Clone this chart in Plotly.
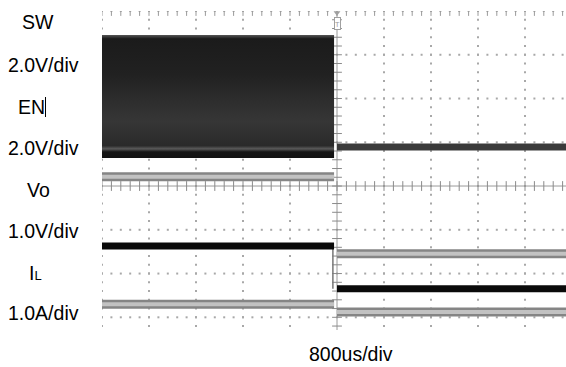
import numpy as np
import plotly.graph_objects as go

# ---- data (time in ms, 800us/div ; amplitude in divisions) ----
t_before = [0.0, 3.95]
t_after = [4.0, 7.9]
t_vo_edge = [3.93, 3.93]

sw_high = 3.45   # SW switching band top
sw_low = 0.64    # SW switching band bottom
sw_off = 0.89    # SW after disable
en_on = 0.21
en_off = -1.55
vo_on = -1.37
vo_off = -2.35
il_on = -2.70
il_off = -2.88

label_text = ["SW", "2.0V/div", "EN", "2.0V/div", "Vo", "1.0V/div",
              "I<span style='font-size:13px'>L</span>", "1.0A/div"]
time_label = "800us/div"

# ---- layout geometry ----
W, H = 566, 367
L, R, T, B = 102, 0, 11, 37
x_rng = [0, (W - L - R) / 47 * 0.8]
y_rng = [-3.29, 4.0]

def px2paper(px, py):
    return (px - L) / (W - L - R), (H - B - py) / (H - T - B)

fig = go.Figure()

# graticule dots
gx, gy = [], []
for xm in np.arange(0, 8.01, 0.8):
    if abs(xm - 4) < 1e-6:
        continue
    for yy in np.arange(-4, 4.01, 0.2):
        gx.append(xm); gy.append(yy)
for ym in np.arange(-4, 4.01, 1.0):
    if abs(ym) < 1e-6:
        continue
    for xx in np.arange(0, 8.01, 0.16):
        gx.append(xx); gy.append(ym)
fig.add_trace(go.Scatter(x=gx, y=gy, mode="markers",
                         marker=dict(symbol="square", size=2, color="#a8a8a8", line=dict(width=0)),
                         hoverinfo="skip"))

# centre axes ticks
mx = np.arange(0, 8.01, 0.16)
my = np.arange(-4, 4.01, 0.2)
fig.add_trace(go.Scatter(x=mx, y=[0] * len(mx), mode="markers",
                         marker=dict(symbol="line-ns", size=7, line=dict(width=1, color="#8a8a8a")),
                         hoverinfo="skip"))
fig.add_trace(go.Scatter(x=[4] * len(my), y=my, mode="markers",
                         marker=dict(symbol="line-ew", size=7, line=dict(width=1, color="#8a8a8a")),
                         hoverinfo="skip"))
# top edge ticks
fig.add_trace(go.Scatter(x=mx, y=[y_rng[1]] * len(mx), mode="markers",
                         marker=dict(symbol="line-ns", size=7, line=dict(width=1, color="#9a9a9a")),
                         hoverinfo="skip"))

fig.add_shape(type="line", x0=4, x1=4, y0=y_rng[0], y1=y_rng[1],
              line=dict(color="#9a9a9a", width=1), layer="below")
fig.add_shape(type="line", x0=x_rng[0], x1=x_rng[1], y0=0, y1=0,
              line=dict(color="#9a9a9a", width=1), layer="below")

# SW switching band
fig.add_trace(go.Scatter(
    x=t_before + t_before[::-1] + [t_before[0]],
    y=[sw_low, sw_low, sw_high, sw_high, sw_low],
    mode="lines", line=dict(width=0), fill="toself",
    fillgradient=dict(type="vertical", start=sw_low, stop=sw_high,
                      colorscale=[[0, "#121212"], [0.05, "#161616"], [0.075, "#5a5a5a"],
                                  [0.1, "#2a2a2a"], [0.3, "#363636"], [0.47, "#2d2d2d"],
                                  [0.68, "#212121"], [0.97, "#1b1b1b"], [1, "#555555"]]),
    hoverinfo="skip"))
# SW after disable
fig.add_trace(go.Scatter(x=t_after, y=[sw_off] * 2, mode="lines",
                         line=dict(color="#3a3a3a", width=7), hoverinfo="skip"))

def gray_band(x, y):
    fig.add_trace(go.Scatter(x=x, y=y, mode="lines",
                             line=dict(color="#858585", width=9), hoverinfo="skip"))
    fig.add_trace(go.Scatter(x=x, y=y, mode="lines",
                             line=dict(color="#c2c2c2", width=4), hoverinfo="skip"))

gray_band(t_before, [en_on] * 2)
gray_band(t_after, [en_off] * 2)

# Vo
fig.add_trace(go.Scatter(x=t_vo_edge, y=[vo_on, vo_off], mode="lines",
                         line=dict(color="#777777", width=1.5), hoverinfo="skip"))
fig.add_trace(go.Scatter(x=t_before, y=[vo_on] * 2, mode="lines",
                         line=dict(color="#0a0a0a", width=7), hoverinfo="skip"))
fig.add_trace(go.Scatter(x=t_after, y=[vo_off] * 2, mode="lines",
                         line=dict(color="#0a0a0a", width=7), hoverinfo="skip"))

# IL
gray_band(t_before, [il_on] * 2)
gray_band(t_after, [il_off] * 2)

# trigger marker
fig.add_trace(go.Scatter(x=[4], y=[3.96], mode="markers", cliponaxis=False,
                         marker=dict(symbol="triangle-down", size=6, color="#a0a0a0"),
                         hoverinfo="skip"))
fig.add_annotation(x=4, y=3.72, xref="x", yref="y", text="T", showarrow=False,
                   font=dict(size=8, color="#999999"), bordercolor="#a0a0a0",
                   borderwidth=1, borderpad=0, bgcolor="white")

# labels
label_pos = [(37.5, 22), (43.5, 65), (31.5, 107), (43.5, 148), (38.5, 190),
             (43.5, 231), (35, 273), (43.5, 313)]
font = dict(family="Liberation Sans, Arial, sans-serif", size=19.5, color="#000000")
for txt, (px, py) in zip(label_text, label_pos):
    xp, yp = px2paper(px, py)
    fig.add_annotation(x=xp, y=yp, xref="paper", yref="paper", text=txt,
                       showarrow=False, xanchor="center", yanchor="middle", font=font)
xp, yp = px2paper(350.5, 354)
fig.add_annotation(x=xp, y=yp, xref="paper", yref="paper", text=time_label,
                   showarrow=False, xanchor="center", yanchor="middle", font=font)
# text cursor after "EN"
x0, y0 = px2paper(45.5, 97)
x1, y1 = px2paper(45.5, 117)
fig.add_shape(type="line", xref="paper", yref="paper", x0=x0, x1=x1, y0=y0, y1=y1,
              line=dict(color="#000000", width=1))

fig.update_layout(width=W, height=H, margin=dict(l=L, r=R, t=T, b=B, pad=0),
                  paper_bgcolor="white", plot_bgcolor="white", showlegend=False,
                  xaxis=dict(range=x_rng, visible=False, fixedrange=True),
                  yaxis=dict(range=y_rng, visible=False, fixedrange=True))

fig.write_html("out.html", config={"displayModeBar": False},
               post_script="document.body.style.margin='0';document.body.style.overflow='hidden';")
